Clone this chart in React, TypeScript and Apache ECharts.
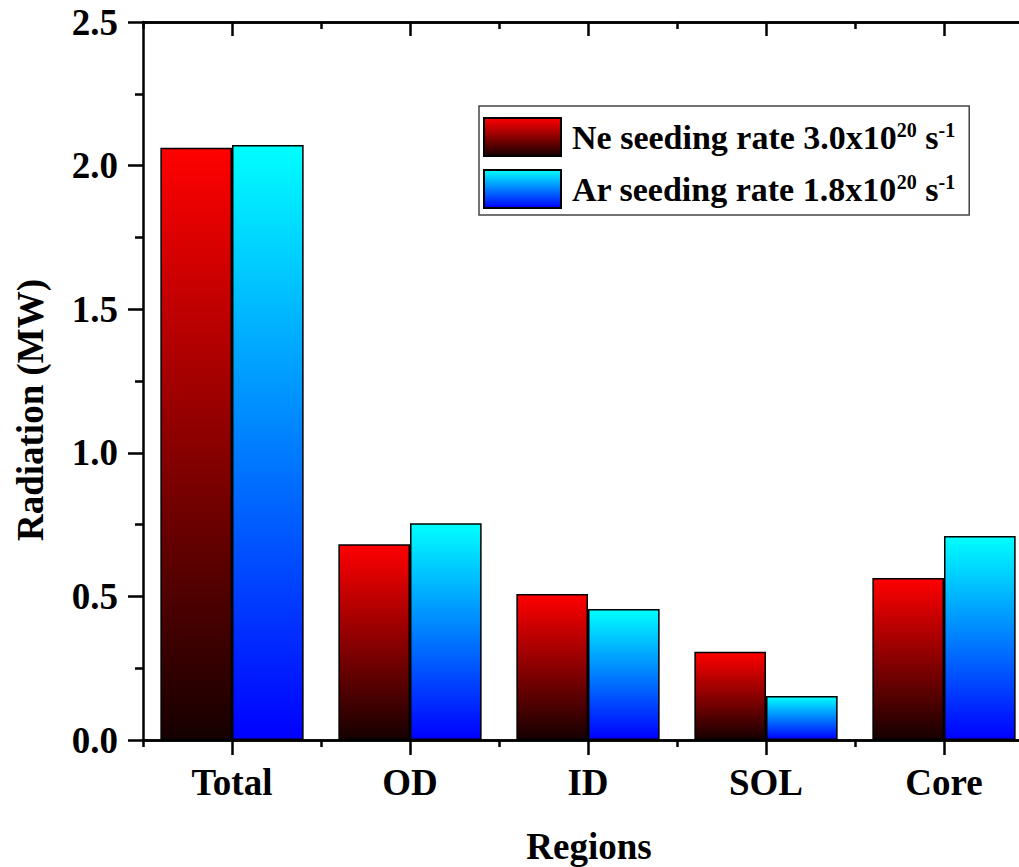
import React, { useEffect, useRef } from "react";
import * as echarts from "echarts";

const categories = ["Total", "OD", "ID", "SOL", "Core"];
const neValues = [2.062, 0.682, 0.508, 0.307, 0.564];
const arValues = [2.072, 0.755, 0.456, 0.153, 0.71];
const seriesNames = ["Ne seeding rate 3.0x10^20 s^-1", "Ar seeding rate 1.8x10^20 s^-1"];
const legendLabels = [
  "Ne seeding rate 3.0x10{sup|20} s{sup|-1}",
  "Ar seeding rate 1.8x10{sup|20} s{sup|-1}",
];
const yTitle = "Radiation (MW)";
const xTitle = "Regions";

const FONT = "'Liberation Serif', 'Times New Roman', serif";

export default function App() {
  const ref = useRef<HTMLDivElement>(null);
  useEffect(() => {
    if (!ref.current) return;
    const chart = echarts.init(ref.current, null, { renderer: "svg" });
    const redGrad = new echarts.graphic.LinearGradient(0, 0, 0, 1, [
      { offset: 0, color: "#ff0000" },
      { offset: 1, color: "#160000" },
    ]);
    const cyanGrad = new echarts.graphic.LinearGradient(0, 0, 0, 1, [
      { offset: 0, color: "#00ffff" },
      { offset: 1, color: "#0000ff" },
    ]);
    const axisLine = { show: true, lineStyle: { color: "#000", width: 2.5 } };
    const hiddenCat = (pos: string, inside: boolean, align: boolean, len: number) => ({
      type: "category",
      data: categories,
      position: pos,
      axisLine: { ...axisLine, show: true },
      axisTick: { show: true, inside, alignWithLabel: align, length: len, lineStyle: { color: "#000", width: 2.5 } },
      axisLabel: { show: false },
      splitLine: { show: false },
    });
    chart.setOption({
      animation: false,
      backgroundColor: "#ffffff",
      grid: { left: 143, top: 22, bottom: 127, right: 7, containLabel: false },
      legend: {
        orient: "vertical",
        left: 479,
        top: 106,
        data: seriesNames,
        icon: "rect",
        itemWidth: 77,
        itemHeight: 38,
        itemGap: 12,
        padding: [11, 14, 6, 4],
        borderColor: "#444",
        borderWidth: 1.5,
        backgroundColor: "#fff",
        formatter: (name: string) => legendLabels[seriesNames.indexOf(name)],
        textStyle: {
          fontFamily: FONT,
          fontWeight: "bold",
          fontSize: 34,
          color: "#000",
          padding: [0, 0, 0, 6],
          rich: {
            sup: {
              fontFamily: FONT,
              fontWeight: "bold",
              fontSize: 20,
              color: "#000",
              verticalAlign: "top",
              padding: [0, 0, 14, 0],
            },
          },
        },
      },
      xAxis: [
        {
          type: "category",
          data: categories,
          position: "bottom",
          axisLine,
          axisTick: { show: true, alignWithLabel: true, length: 15, lineStyle: { color: "#000", width: 2.5 } },
          axisLabel: {
            fontFamily: FONT,
            fontWeight: "bold",
            fontSize: 37,
            color: "#000",
            margin: 24,
          },
          splitLine: { show: false },
        },
        hiddenCat("bottom", false, false, 7),
        hiddenCat("top", true, true, 14),
        hiddenCat("top", true, false, 7),
      ],
      yAxis: {
        type: "value",
        min: 0,
        max: 2.5,
        interval: 0.5,
        axisLine,
        axisTick: { show: true, length: 15, lineStyle: { color: "#000", width: 2.5 } },
        minorTick: { show: true, splitNumber: 2, length: 8, lineStyle: { color: "#000", width: 2.5 } },
        axisLabel: {
          fontFamily: FONT,
          fontWeight: "bold",
          fontSize: 37,
          color: "#000",
          margin: 25,
          formatter: (v: number) => v.toFixed(1),
        },
        splitLine: { show: false },
      },
      graphic: [
        {
          type: "text",
          x: 30,
          y: 410,
          rotation: Math.PI / 2,
          style: {
            text: yTitle,
            fontFamily: FONT,
            fontWeight: "bold",
            fontSize: 37,
            fill: "#000",
            textAlign: "center",
            textVerticalAlign: "middle",
          },
        },
        {
          type: "text",
          x: 589,
          y: 846,
          style: {
            text: xTitle,
            fontFamily: FONT,
            fontWeight: "bold",
            fontSize: 37,
            fill: "#000",
            textAlign: "center",
            textVerticalAlign: "middle",
          },
        },
      ],
      series: [
        {
          name: seriesNames[0],
          type: "bar",
          data: neValues,
          barGap: "0%",
          barCategoryGap: "19.5%",
          itemStyle: { color: redGrad, borderColor: "#000", borderWidth: 1.5 },
        },
        {
          name: seriesNames[1],
          type: "bar",
          data: arValues,
          barGap: "0%",
          barCategoryGap: "19.5%",
          itemStyle: { color: cyanGrad, borderColor: "#000", borderWidth: 1.5 },
        },
      ],
    });
    return () => chart.dispose();
  }, []);
  return (
    <div
      style={{ position: "absolute", left: 0, top: 0, width: 1019, height: 867, overflow: "hidden", background: "#fff" }}
    >
      <div ref={ref} style={{ width: 1040, height: 867 }} />
    </div>
  );
}
